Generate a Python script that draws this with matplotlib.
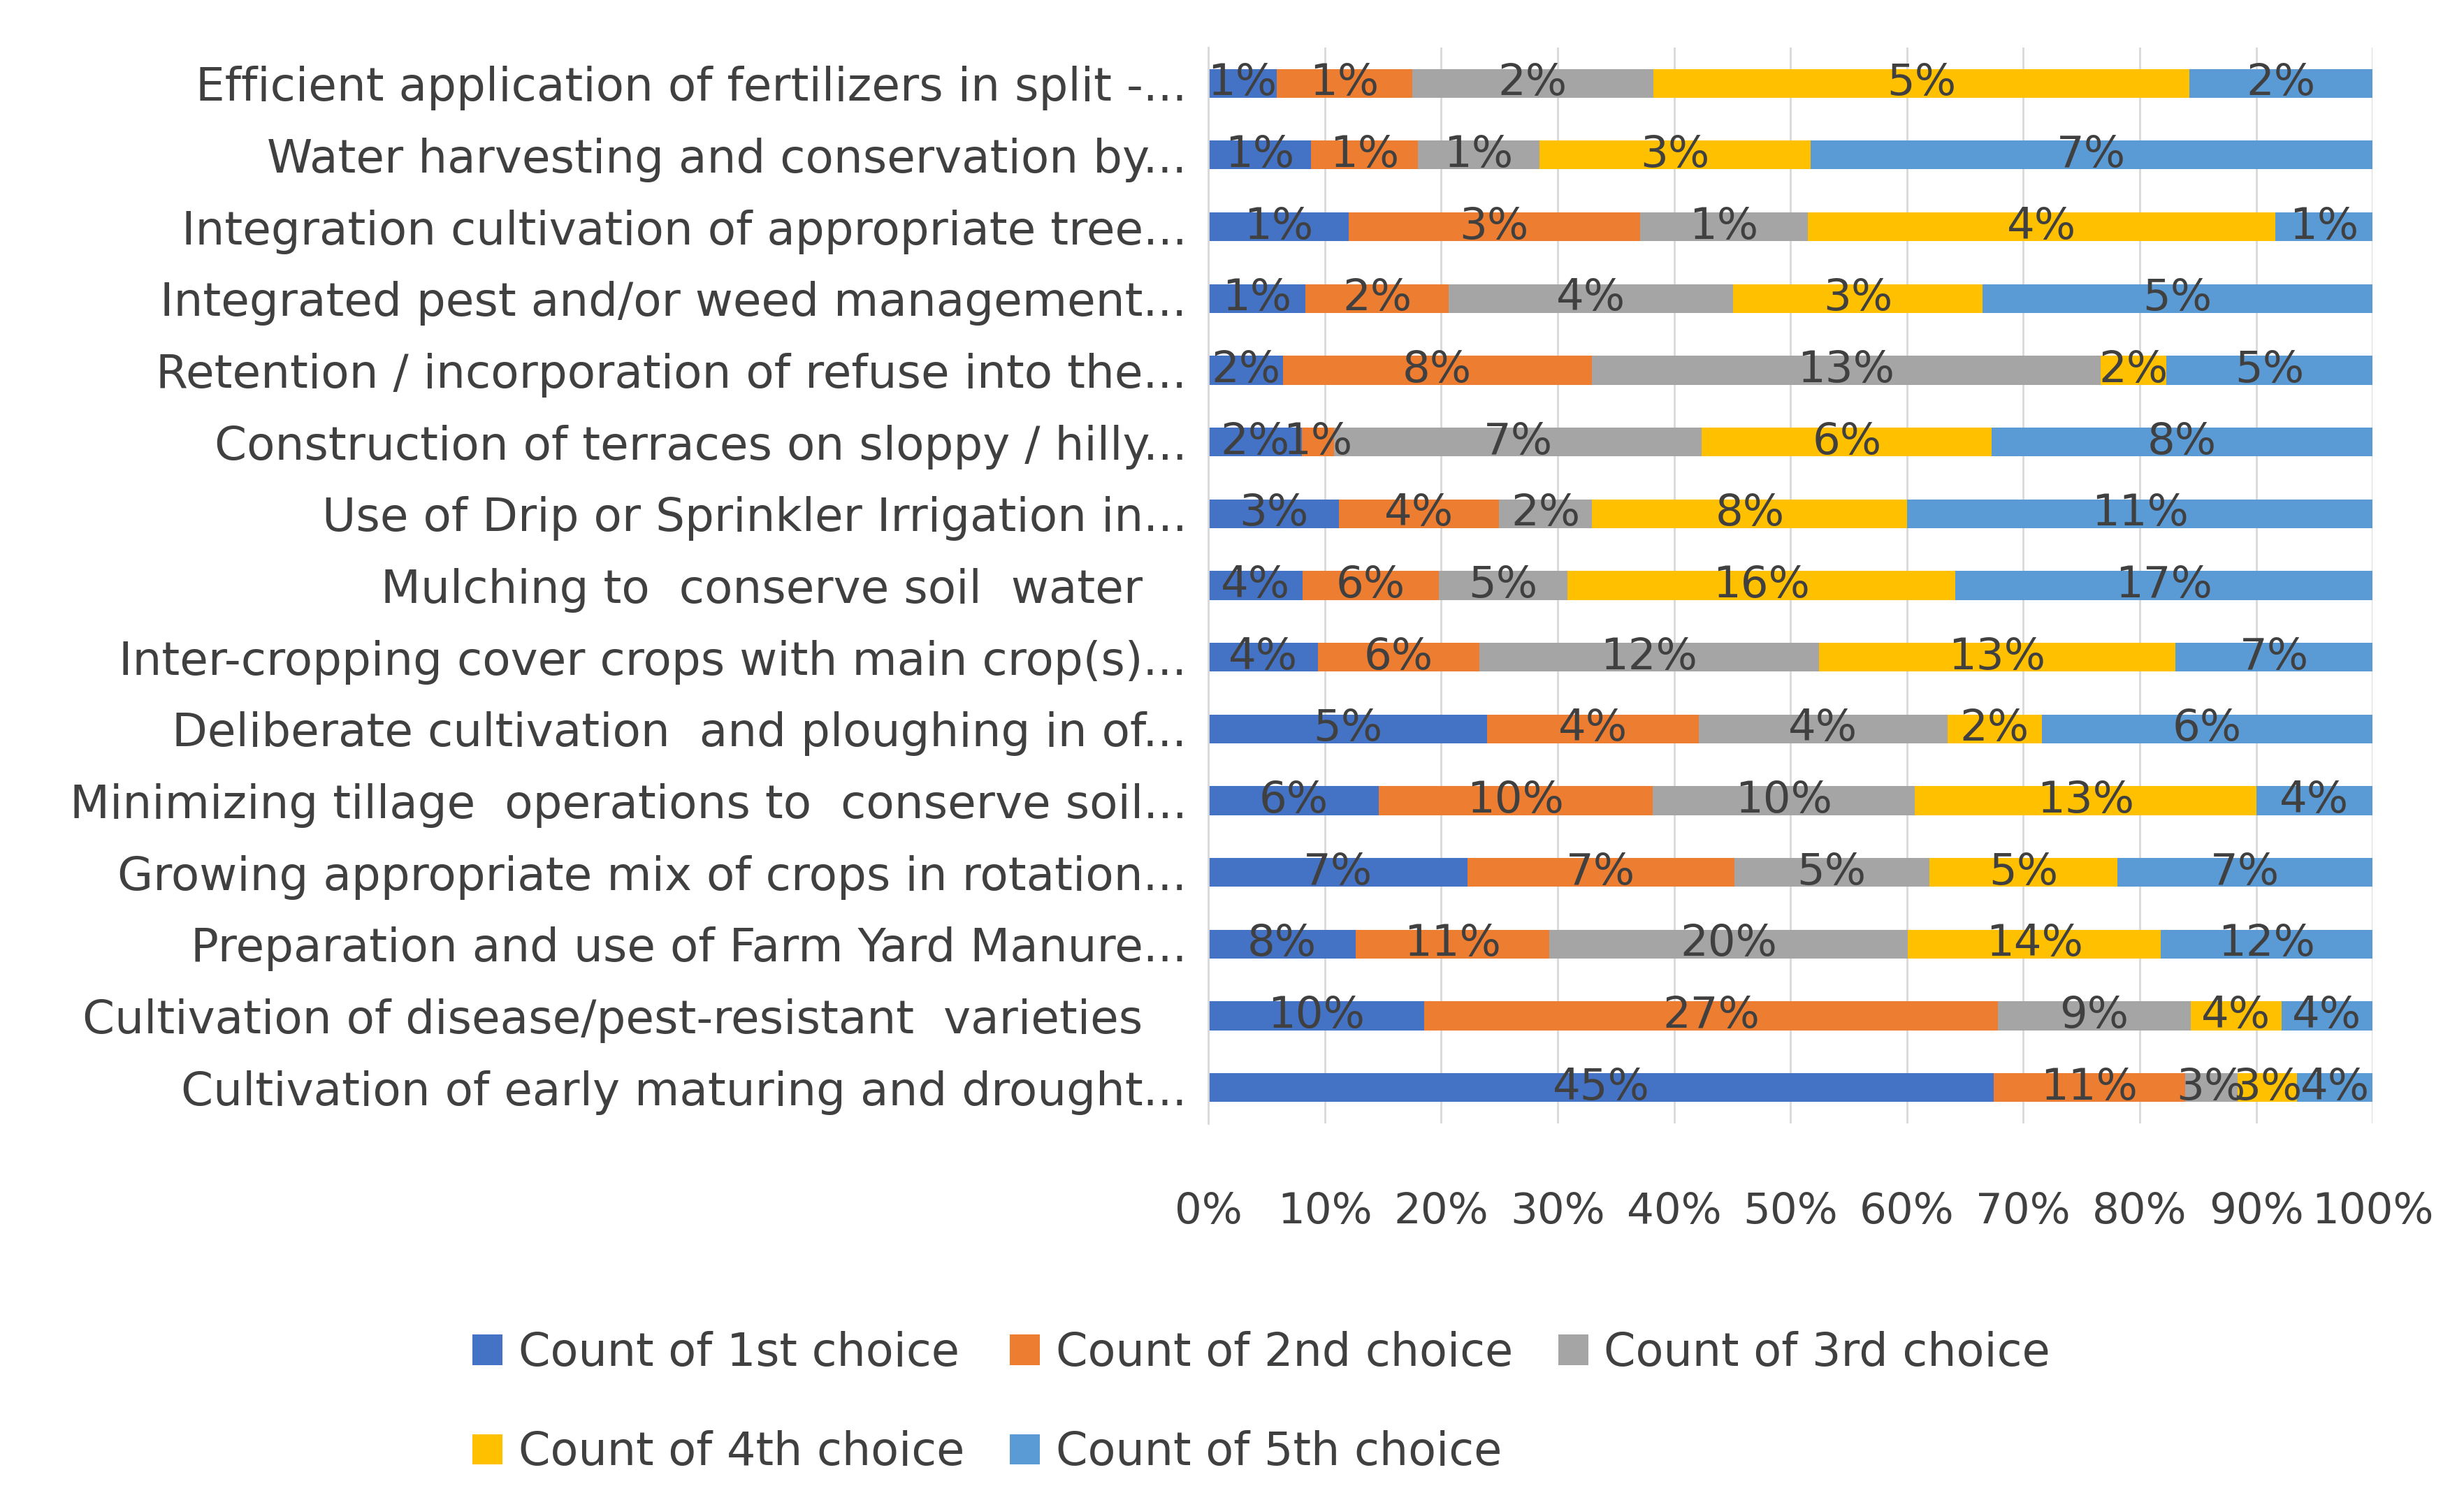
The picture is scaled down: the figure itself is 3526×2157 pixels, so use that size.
import numpy as np
import matplotlib
matplotlib.use("Agg")
from matplotlib import pyplot as plt

plt.rcParams['font.family'] = ['DejaVu Sans']

# practices, top row first
practices = [
    "Efficient application of fertilizers in split -...",
    "Water harvesting and conservation by...",
    "Integration cultivation of appropriate tree...",
    "Integrated pest and/or weed management...",
    "Retention / incorporation of refuse into the...",
    "Construction of terraces on sloppy / hilly...",
    "Use of Drip or Sprinkler Irrigation in...",
    "Mulching to  conserve soil  water   ",
    "Inter-cropping cover crops with main crop(s)...",
    "Deliberate cultivation  and ploughing in of...",
    "Minimizing tillage  operations to  conserve soil...",
    "Growing appropriate mix of crops in rotation...",
    "Preparation and use of Farm Yard Manure...",
    "Cultivation of disease/pest-resistant  varieties   ",
    "Cultivation of early maturing and drought...",
]

# share of each choice (% of that choice's total)
choice1 = [0.64, 1.23, 1.23, 1.29, 1.92, 1.86, 3.14, 3.89, 3.99, 5.0, 6.3, 6.9, 8.2, 10.2, 44.8]
choice2 = [1.26, 1.29, 2.55, 1.91, 7.95, 0.65, 3.86, 5.62, 5.9, 3.8, 10.1, 7.1, 10.8, 27.1, 10.9]
choice3 = [2.25, 1.46, 1.47, 3.78, 13.1, 7.33, 2.24, 5.28, 12.4, 4.47, 9.7, 5.2, 20.0, 9.1, 3.0]
choice4 = [5.0, 3.26, 4.10, 3.32, 1.69, 5.78, 7.59, 16.0, 13.0, 1.69, 12.6, 5.0, 14.1, 4.3, 3.4]
choice5 = [1.71, 6.76, 0.85, 5.19, 5.31, 7.59, 11.2, 17.2, 7.2, 5.94, 4.3, 6.8, 11.8, 4.3, 4.3]

series = ["Count of 1st choice", "Count of 2nd choice", "Count of 3rd choice",
          "Count of 4th choice", "Count of 5th choice"]
colors = ["#4472C4", "#ED7D31", "#A5A5A5", "#FFC000", "#5B9BD5"]

vals = np.array([choice1, choice2, choice3, choice4, choice5])
row_tot = vals.sum(axis=0)
y = np.arange(len(practices))

txt = "#404040"
fig = plt.figure(figsize=(35.26, 21.57), dpi=100)
ax = fig.add_axes([0.4904, 0.2545, 0.4725, 0.714])

left = np.zeros(len(practices))
handles = []
for j in range(5):
    w = vals[j] / row_tot * 100
    b = ax.barh(y, w, left=left, height=0.4, color=colors[j], label=series[j], zorder=2)
    handles.append(b)
    for i in range(len(practices)):
        ax.text(left[i] + w[i] / 2, y[i], "%d%%" % int(np.floor(vals[j][i] + 0.5)),
                ha='center', va='center', fontsize=45, color=txt, zorder=3)
    left = left + w

ax.set_xlim(0, 100)
ax.set_ylim(len(practices) - 0.5, -0.5)
ax.set_yticks(y)
ax.set_yticklabels(practices, fontsize=47.5, color=txt)
ax.set_xticks(np.arange(0, 101, 10))
ax.set_xticklabels(["%d%%" % v for v in range(0, 101, 10)], fontsize=44, color=txt)
ax.tick_params(axis='x', length=0, pad=70)
ax.tick_params(axis='y', length=0, pad=22)
ax.xaxis.grid(True, color="#d9d9d9", lw=2, zorder=0)
ax.set_axisbelow(True)
for s in ['top', 'right', 'bottom']:
    ax.spines[s].set_visible(False)
ax.spines['left'].set_color("#d9d9d9")
ax.spines['left'].set_linewidth(2)

order = [0, 3, 1, 4, 2]
fig.legend([handles[i] for i in order], [series[i] for i in order],
           ncol=3, loc='center', bbox_to_anchor=(0.512, 0.069), frameon=False,
           fontsize=47, handlelength=0.65, handleheight=0.65, handletextpad=0.35,
           columnspacing=1.0, labelspacing=1.2, labelcolor=txt)

fig.savefig("out.png", dpi=100)
